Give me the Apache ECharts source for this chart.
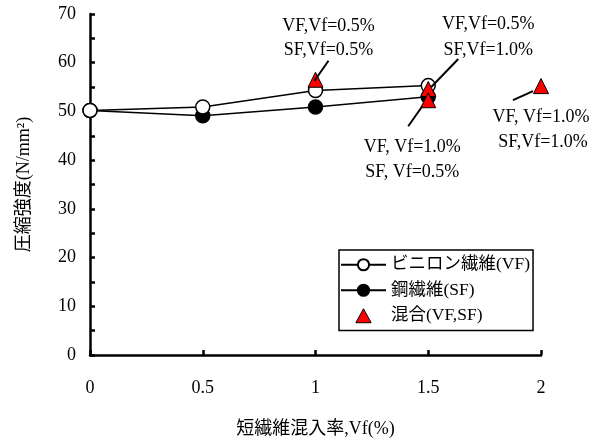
<!DOCTYPE html>
<html><head><meta charset="utf-8">
<script src="https://cdn.jsdelivr.net/npm/echarts@6/dist/echarts.min.js"></script>
<style>html,body{margin:0;padding:0;background:#fff}#c{width:595px;height:443px}</style>
</head><body><div id="c"></div>
<script>
// ---- data ----
const vfX = [0, 0.5, 1, 1.5];
const vfY = [50.2, 50.9, 54.3, 55.3];
const sfX = [0, 0.5, 1, 1.5];
const sfY = [50.2, 49.1, 50.9, 53.0];
const mixX = [1, 1.5, 1.5, 2];
const mixY = [56.5, 54.6, 52.3, 55.2];
const mixLabel1 = ['VF,Vf=0.5%', 'VF,Vf=0.5%', 'VF, Vf=1.0%', 'VF, Vf=1.0%'];
const mixLabel2 = ['SF,Vf=0.5%', 'SF,Vf=1.0%', 'SF, Vf=0.5%', 'SF,Vf=1.0%'];
const seriesNames = ['ビニロン繊維(VF)', '鋼繊維(SF)', '混合(VF,SF)'];
const xTitle = '短繊維混入率,Vf(%)';
const yTitle = '圧縮強度(N/mm²)';

// ---- annotation layout (pixel offsets from the triangle) ----
const annLayout = [
  {l: [13, -19, -1, 1], t1: [13, -53], t2: [13, -29]},
  {l: [30, -30, 3, -2], t1: [60, -65], t2: [60, -39]},
  {l: [-20, 26, -6, 6], t1: [-16, 47], t2: [-16, 72]},
  {l: [-28, 14, -8, 5], t1: [0, 31], t2: [2, 56]}
];

const serif = '"Liberation Serif","Noto Sans CJK JP",serif';
const cjk = '"Liberation Serif","Noto Sans CJK JP",serif';

const chart = echarts.init(document.getElementById('c'));
chart.setOption({
  animation: false,
  backgroundColor: '#fff',
  grid: {left: 90, right: 54, top: 14, bottom: 88, containLabel: false, outerBoundsMode: 'none'},
  xAxis: {
    type: 'value', min: 0, max: 2, interval: 0.5,
    name: xTitle, nameLocation: 'middle', nameGap: 65,
    nameTextStyle: {fontFamily: cjk, fontSize: 18, color: '#000'},
    axisLine: {lineStyle: {color: '#000', width: 2.5}},
    axisTick: {inside: true, length: 5, lineStyle: {color: '#000', width: 2.5}},
    axisLabel: {fontFamily: serif, fontSize: 18, color: '#000', margin: 24,
      formatter: v => String(v)},
    splitLine: {show: false}
  },
  yAxis: {
    type: 'value', min: 0, max: 70, interval: 10,
    name: yTitle, nameLocation: 'middle', nameGap: 57, nameRotate: 90,
    nameTextStyle: {fontFamily: cjk, fontSize: 18, color: '#000'},
    axisLine: {lineStyle: {color: '#000', width: 2.5}},
    axisTick: {inside: true, length: 5, lineStyle: {color: '#000', width: 2.5}},
    minorTick: {show: true, splitNumber: 2, length: 5, lineStyle: {color: '#000', width: 2.5}},
    axisLabel: {fontFamily: serif, fontSize: 18, color: '#000', margin: 14},
    splitLine: {show: false}
  },
  legend: {
    orient: 'vertical', left: 339, top: 250,
    backgroundColor: '#fff', borderColor: '#000', borderWidth: 1.5, borderRadius: 0,
    padding: [6, 3, 6, 1], itemGap: 8, itemWidth: 45, itemHeight: 14,
    symbolKeepAspect: true,
    textStyle: {fontFamily: cjk, fontSize: 17.5, color: '#000'},
    data: [
      {name: seriesNames[0]},
      {name: seriesNames[1]},
      {name: seriesNames[2], icon: 'path://M6,0 L12,11 L0,11 Z', itemStyle: {borderColor: '#000', borderWidth: 1}}
    ]
  },
  series: [
    {
      name: seriesNames[0], type: 'line', z: 3,
      data: vfX.map((x, i) => [x, vfY[i]]),
      symbol: 'circle', symbolSize: 14, showAllSymbol: true,
      lineStyle: {color: '#000', width: 1.5},
      itemStyle: {color: '#fff', borderColor: '#000', borderWidth: 1.5}
    },
    {
      name: seriesNames[1], type: 'line', z: 2,
      data: sfX.map((x, i) => [x, sfY[i]]),
      symbol: 'circle', symbolSize: 14,
      lineStyle: {color: '#000', width: 1.5},
      itemStyle: {color: '#000', borderColor: '#000', borderWidth: 1.5}
    },
    {
      name: seriesNames[2], type: 'scatter', z: 5,
      data: mixX.map((x, i) => [x, mixY[i]]),
      symbol: 'triangle', symbolSize: 15,
      itemStyle: {color: '#ff0000', borderColor: '#000', borderWidth: 1, opacity: 1}
    },
    {
      name: 'annotations', type: 'custom', z: 6, silent: true,
      data: mixX.map((x, i) => [x, mixY[i], i]),
      renderItem: (params, api) => {
        const p = api.coord([api.value(0), api.value(1)]);
        const i = api.value(2);
        const a = annLayout[i];
        return {
          type: 'group',
          children: [
            {type: 'line', shape: {x1: p[0] + a.l[0], y1: p[1] + a.l[1], x2: p[0] + a.l[2], y2: p[1] + a.l[3]},
             style: {stroke: '#000', lineWidth: 2}},
            {type: 'text', x: p[0] + a.t1[0], y: p[1] + a.t1[1],
             style: {text: mixLabel1[i], font: '18px ' + serif, fill: '#000', align: 'center', verticalAlign: 'middle'}},
            {type: 'text', x: p[0] + a.t2[0], y: p[1] + a.t2[1],
             style: {text: mixLabel2[i], font: '18px ' + serif, fill: '#000', align: 'center', verticalAlign: 'middle'}}
          ]
        };
      }
    }
  ]
});
</script></body></html>
